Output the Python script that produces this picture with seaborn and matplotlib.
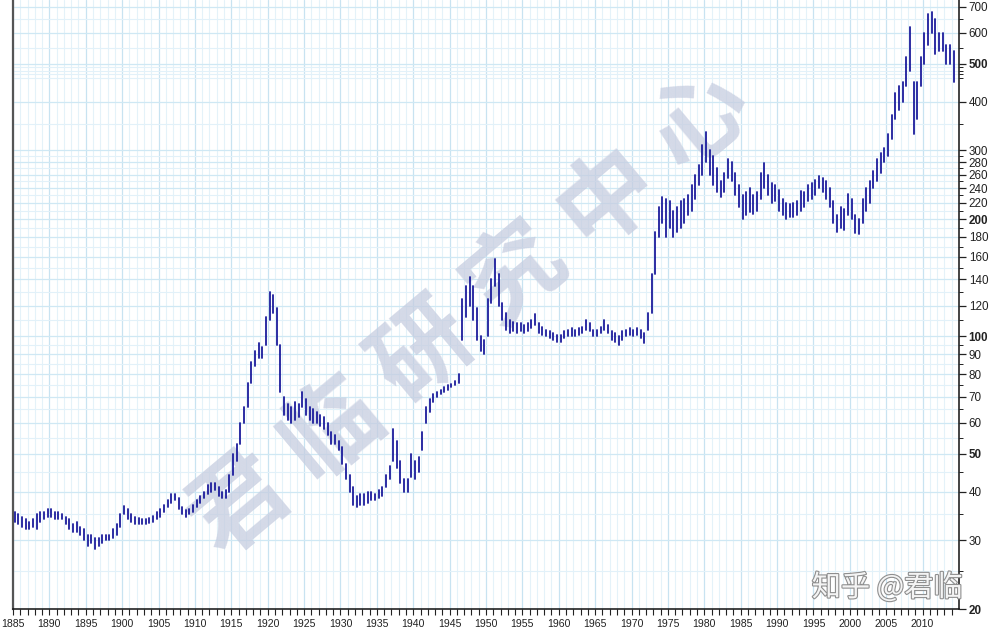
import numpy as np
import pandas as pd
import matplotlib
matplotlib.use("Agg")
import matplotlib.pyplot as plt
import matplotlib.patheffects as pe
from matplotlib.ticker import FixedLocator, FixedFormatter, NullFormatter
import seaborn as sns

# ---------------- data (half-year low / high bars, 1885 H1 ... 2014 H1) ----------------
first_year = 1885
lows = [
    33.5, 33, 32.5, 32, 32, 32.5, 32, 33.5, 34, 34.5,          # 1885-1889
    34.5, 34, 34, 34, 33, 32, 31.5, 31.5, 31, 30,              # 1890-1894
    29, 29.5, 28.5, 29, 29.5, 30, 30, 30.5, 31, 32.5,          # 1895-1899
    35, 34, 33.5, 33, 33, 33, 33, 33.2, 33.5, 34,              # 1900-1904
    34.5, 35.5, 36.5, 37.5, 38, 36, 35, 34.5, 35, 35.5,        # 1905-1909
    36.5, 37.5, 38.5, 39.5, 40, 40.5, 39, 38.5, 38.5, 40,      # 1910-1914
    44, 48, 53, 60, 66, 76, 84, 88, 88, 95,                    # 1915-1919
    110, 115, 95, 72, 63, 61, 60, 61, 62, 66,                  # 1920-1924
    63, 61, 60, 60, 59, 58, 56, 53, 53, 51,                    # 1925-1929
    47, 43, 40, 37, 36.5, 37, 37, 37.5, 38, 38,                # 1930-1934
    38.5, 39, 41, 43, 48, 46, 42, 40, 40, 43.5,                # 1935-1939
    43, 45, 51, 60, 64, 68, 70, 71, 72, 73,                    # 1940-1944
    74, 75, 76, 98, 112, 120, 110, 98, 92, 90,                 # 1945-1949
    100, 122, 135, 120, 110, 104, 102, 103, 102, 103,          # 1950-1954
    102, 103, 105, 107, 102, 101, 100, 99, 98, 97,             # 1955-1959
    97, 99, 100, 100, 100, 101, 102, 104, 103, 100,            # 1960-1964
    100, 102, 104, 102, 98, 97, 95, 98, 100, 101,              # 1965-1969
    100, 101, 99, 96, 104, 115, 145, 180, 195, 180,            # 1970-1974
    190, 180, 185, 190, 195, 205, 210, 225, 245, 260,          # 1975-1979
    280, 260, 245, 235, 228, 235, 255, 250, 230, 215,          # 1980-1984
    200, 205, 208, 206, 210, 225, 240, 230, 220, 222,          # 1985-1989
    210, 205, 200, 202, 202, 205, 210, 215, 222, 225,          # 1990-1994
    230, 240, 235, 225, 215, 195, 185, 190, 188, 205,          # 1995-1999
    200, 184, 183, 195, 210, 220, 240, 250, 262, 280,          # 2000-2004
    290, 320, 360, 380, 400, 440, 480, 330, 360, 440,          # 2005-2009
    500, 560, 600, 530, 540, 540, 500, 500, 450,               # 2010-2014
]
highs = [
    35.5, 35, 34.5, 34, 33.5, 34, 35, 35.5, 35.5, 36,          # 1885-1889
    36, 35.5, 35.5, 35, 34.5, 34, 33, 33.5, 32.5, 32,          # 1890-1894
    31, 31, 30.5, 30.5, 31, 31, 31, 32, 33, 35,                # 1895-1899
    36.8, 36, 35, 34.5, 34.2, 34, 34, 34.3, 34.6, 35.5,        # 1900-1904
    36, 37, 38, 39.5, 39.5, 38.5, 36.5, 35.8, 36.2, 37,        # 1905-1909
    38, 39, 40, 41.5, 42, 42, 41, 40, 40.5, 44,                # 1910-1914
    50, 53, 60, 66, 76, 86, 92, 96, 94, 112,                   # 1915-1919
    130, 128, 118, 95, 70, 67, 66, 68, 67, 72,                 # 1920-1924
    69, 66, 65, 64, 63, 62, 60, 57, 56, 54,                    # 1925-1929
    52, 47, 44, 41, 39, 39.5, 39.5, 40, 40, 39.5,              # 1930-1934
    40.5, 41, 44, 46.5, 58, 54, 48, 43, 43, 50,                # 1935-1939
    48, 49, 57, 66, 69, 71, 72, 73, 74, 75,                    # 1940-1944
    75.5, 77, 80, 125, 135, 142, 135, 118, 100, 98,            # 1945-1949
    125, 140, 158, 145, 122, 115, 110, 109, 108, 108,          # 1950-1954
    107, 108, 110, 114, 108, 106, 104, 103, 102, 101,          # 1955-1959
    101, 103, 104, 105, 104, 105, 106, 110, 108, 104,          # 1960-1964
    104, 106, 110, 107, 103, 102, 100, 103, 104, 105,          # 1965-1969
    104, 105, 104, 102, 115, 145, 185, 215, 228, 225,          # 1970-1974
    222, 210, 215, 222, 225, 230, 245, 260, 275, 310,          # 1975-1979
    335, 300, 290, 270, 250, 262, 285, 280, 262, 245,          # 1980-1984
    230, 235, 240, 230, 235, 262, 278, 260, 248, 245,          # 1985-1989
    238, 225, 220, 218, 220, 222, 236, 235, 245, 248,          # 1990-1994
    252, 258, 255, 250, 240, 222, 205, 215, 212, 232,          # 1995-1999
    225, 205, 200, 225, 240, 250, 265, 285, 295, 305,          # 2000-2004
    330, 370, 420, 440, 450, 520, 620, 450, 450, 520,          # 2005-2009
    600, 670, 680, 650, 600, 600, 560, 560, 540,               # 2010-2014
]

y_major = [20, 30, 40, 50, 60, 70, 80, 90, 100, 120, 140, 160, 180, 200,
           220, 240, 260, 280, 300, 400, 500, 600, 700]
y_minor = [25, 35, 45, 55, 65, 75, 85, 95, 110, 130, 150, 170, 190, 210, 230,
           250, 270, 290, 350, 460, 470, 480, 490, 550, 650]
bold_labels = [20, 50, 100, 200, 500]
x_labels = list(range(1885, 2015, 5))

# ---------------- build long table: one unit per bar ----------------
period = np.arange(len(lows))
bar_year = first_year + period / 2 + 0.25
df = pd.DataFrame({
    "unit": np.concatenate([period, period]),
    "year": np.concatenate([bar_year, bar_year]),
    "price": np.concatenate([lows, highs]),
})

sns.set_theme(style="white")
plt.rcParams["font.family"] = ["Liberation Sans", "Noto Sans CJK SC", "DejaVu Sans"]

fig = plt.figure(figsize=(9.91, 6.28), dpi=100)
ax = fig.add_axes([13 / 991, 1 - 609 / 628, (959 - 13) / 991, 609 / 628])
ax.set_facecolor("white")

sns.lineplot(data=df, x="year", y="price", units="unit", estimator=None,
             sort=False, color="#1c1c9c", lw=1.3, ax=ax, zorder=3, legend=False)

ax.set_yscale("log")
ax.set_xlim(1885, 2015)
ax.set_ylim(20, 729)

# x ticks
ax.xaxis.set_major_locator(FixedLocator(x_labels))
ax.xaxis.set_minor_locator(FixedLocator(list(range(1885, 2015))))
ax.set_xticklabels([str(v) for v in x_labels])
ax.tick_params(axis="x", which="both", direction="out", length=4, width=0.8,
               colors="#222222", labelsize=7.6, pad=3, bottom=True)

# y ticks on right
ax.yaxis.tick_right()
ax.yaxis.set_major_locator(FixedLocator(y_major))
ax.yaxis.set_major_formatter(FixedFormatter([str(v) for v in y_major]))
ax.yaxis.set_minor_locator(FixedLocator(y_minor))
ax.yaxis.set_minor_formatter(NullFormatter())
ax.tick_params(axis="y", which="major", direction="out", length=5, width=0.9,
               colors="#222222", labelsize=8.4, pad=2, right=True, left=False)
ax.tick_params(axis="y", which="minor", direction="out", length=3, width=0.7,
               colors="#222222", right=True, left=False)
for lab, v in zip(ax.get_yticklabels(), y_major):
    if v in bold_labels:
        lab.set_fontweight("bold")

# grid
ax.grid(True, which="major", axis="x", color="#c8e3f1", lw=0.9, zorder=0)
ax.grid(True, which="minor", axis="x", color="#e4f2f9", lw=0.8, zorder=0)
ax.grid(True, which="major", axis="y", color="#cfe8f4", lw=0.9, zorder=0)
ax.grid(True, which="minor", axis="y", color="#e2f1f9", lw=0.8, zorder=0)
ax.set_axisbelow(True)

ax.set_xlabel("")
ax.set_ylabel("")

ax.spines["top"].set_visible(False)
ax.spines["left"].set_color("#555555")
ax.spines["left"].set_linewidth(1.6)
ax.spines["right"].set_color("#111111")
ax.spines["right"].set_linewidth(1.1)
ax.spines["bottom"].set_color("#111111")
ax.spines["bottom"].set_linewidth(1.1)

# watermark characters along a diagonal
wm = "君临研究中心"
x0, y0, x1, y1 = 240, 505, 700, 120
for i, ch in enumerate(wm):
    px = x0 + (x1 - x0) * i / (len(wm) - 1)
    py = y0 + (y1 - y0) * i / (len(wm) - 1)
    ax.text(px / 991, 1 - py / 628, ch, transform=fig.transFigure,
            rotation=40, rotation_mode="anchor", ha="center", va="center",
            fontsize=70, fontweight="semibold", color="#c6cde0", alpha=0.75,
            family=["Noto Sans CJK SC", "DejaVu Sans"], zorder=1.5)

fig.text(887 / 991, 1 - 588 / 628, "知乎 @君临", ha="center", va="center",
         fontsize=21, color="#f4f4f4",
         family=["Noto Sans CJK SC", "DejaVu Sans"], zorder=5,
         path_effects=[pe.withStroke(linewidth=1.6, foreground="#8f8f8f")])

fig.savefig("out.png", dpi=100)
